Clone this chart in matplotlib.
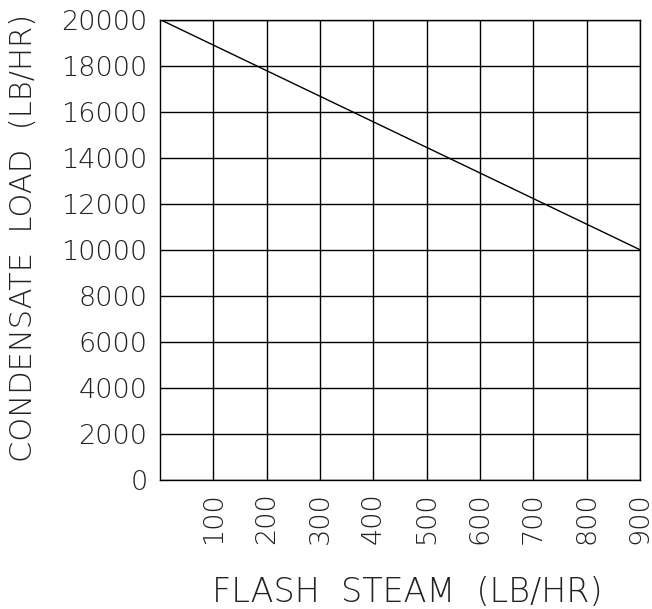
import matplotlib
matplotlib.use("Agg")
import matplotlib.pyplot as plt

flash_steam = [0, 900]
condensate_load = [20000, 10000]
x_ticks = [100, 200, 300, 400, 500, 600, 700, 800, 900]
y_ticks = [0, 2000, 4000, 6000, 8000, 10000, 12000, 14000, 16000, 18000, 20000]
x_label = "FLASH  STEAM  (LB/HR)"
y_label = "CONDENSATE  LOAD  (LB/HR)"

plt.rcParams['font.family'] = ['DejaVu Sans']
fig = plt.figure(figsize=(6.52, 6.09), dpi=100)
ax = fig.add_axes([160/652, 1 - 480/609, 480/652, 460.5/609])
ax.plot(flash_steam, condensate_load, color='black', lw=1.0)
ax.set_xlim(0, 900)
ax.set_ylim(0, 20000)
ax.set_xticks(x_ticks)
ax.set_yticks(y_ticks)
ax.grid(True, color='black', lw=1.0)
for s in ax.spines.values():
    s.set_color('black')
    s.set_linewidth(1.0)
ax.tick_params(length=0, labelsize=19.5, colors='#222222')
ax.tick_params(axis='y', pad=9)
ax.tick_params(axis='x', pad=9)
for lab in ax.get_xticklabels():
    lab.set_rotation(90)
    lab.set_fontweight('light')
for lab in ax.get_yticklabels():
    lab.set_fontweight('light')
fig.text(407/652, 1 - 592/609, x_label, ha='center', va='center', fontsize=24,
         color='#222222', fontweight='light')
fig.text(24/652, 1 - 238/609, y_label, ha='center', va='center', fontsize=22,
         rotation=90, color='#222222', fontweight='light')
fig.savefig('out.png', dpi=100)
